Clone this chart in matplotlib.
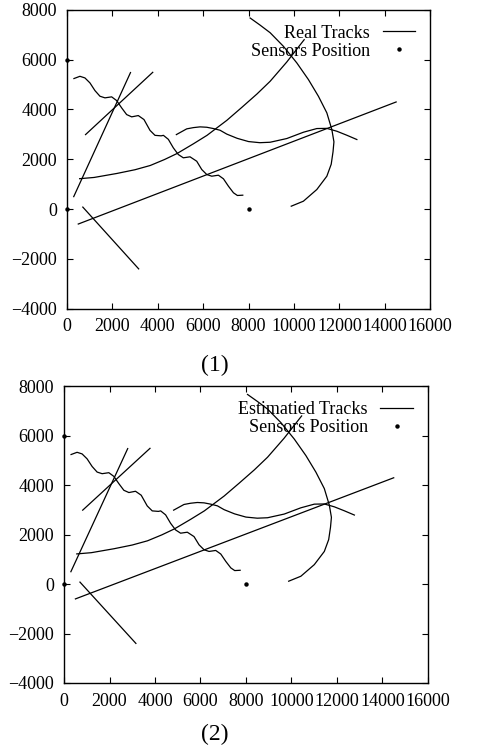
import numpy as np
import matplotlib
matplotlib.use('Agg')
import matplotlib.pyplot as plt

plt.rcParams['font.family'] = ['Liberation Serif', 'DejaVu Serif']

# tracks (x, y in metres)
line_a_x = [500, 14500]
line_a_y = [-600, 4300]

line_b_x = [300, 2800]
line_b_y = [500, 5480]

line_c_x = [820, 3780]
line_c_y = [2990, 5490]

line_d_x = [700, 3160]
line_d_y = [80, -2400]

curve_e_x = [560, 1200, 2200, 3000, 3670, 4300, 4850, 5570, 6170, 7040, 7700, 8370, 8950, 9680, 10450]
curve_e_y = [1220, 1270, 1430, 1580, 1750, 1990, 2230, 2620, 2960, 3560, 4080, 4620, 5130, 5900, 6800]

arc_f_x = [8070, 8500, 8950, 9535, 10125, 10637, 11077, 11448, 11668, 11760, 11720, 11640, 11448, 11007, 10416, 9880]
arc_f_y = [7670, 7390, 7080, 6534, 5868, 5198, 4528, 3862, 3193, 2700, 2300, 1800, 1320, 786, 317, 116]

wave_g_x = [309, 573, 793, 1014, 1234, 1455, 1675, 1970, 2190, 2410, 2630, 2852, 3143, 3394,
            3659, 3879, 4150, 4250, 4467, 4686, 4906, 5127, 5422, 5717, 5938, 6158, 6378,
            6672, 6894, 7114, 7335, 7507, 7745]
wave_g_y = [5240, 5330, 5265, 5065, 4757, 4530, 4465, 4505, 4356, 4063, 3794, 3702, 3754, 3594,
            3160, 2960, 2940, 2960, 2800, 2459, 2190, 2058, 2098, 1921, 1588, 1388, 1320,
            1360, 1215, 918, 654, 546, 558]

wave_h_x = [4820, 5276, 5568, 5863, 6158, 6449, 6744, 7040, 7500, 8000, 8500, 8950, 9684,
            10416, 11007, 11448, 11888, 12329, 12770]
wave_h_y = [2990, 3220, 3270, 3300, 3285, 3233, 3165, 3010, 2840, 2710, 2665, 2683, 2832,
            3085, 3233, 3240, 3125, 2964, 2792]

sensor_x = [0, 0, 8000]
sensor_y = [6000, 0, 0]

track_x = [line_a_x, line_b_x, line_c_x, line_d_x, curve_e_x, arc_f_x, wave_g_x, wave_h_x]
track_y = [line_a_y, line_b_y, line_c_y, line_d_y, curve_e_y, arc_f_y, wave_g_y, wave_h_y]

panels = [
    ([0.140, 0.590, 0.760, 0.397], 'Real Tracks', '(1)', 0.515),
    ([0.134, 0.093, 0.761, 0.394], 'Estimatied Tracks', '(2)', 0.024),
]

fig = plt.figure(figsize=(4.78, 7.53), dpi=100)

for rect, track_label, caption, cap_y in panels:
    ax = fig.add_axes(rect)
    for i, (xs, ys) in enumerate(zip(track_x, track_y)):
        ax.plot(xs, ys, color='black', lw=0.9, solid_joinstyle='round',
                label=track_label if i == 0 else None)
    ax.plot(sensor_x, sensor_y, 'o', color='black', ms=3.2, mew=0,
            label='Sensors Position', clip_on=False)

    ax.set_xlim(0, 16000)
    ax.set_ylim(-4000, 8000)
    ax.set_xticks(np.arange(0, 16001, 2000))
    ax.set_yticks(np.arange(-4000, 8001, 2000))
    ax.tick_params(direction='in', top=True, right=True, length=4,
                   width=0.8, labelsize=13, pad=7)
    for s in ax.spines.values():
        s.set_linewidth(1.0)

    ax.legend(loc='upper right', bbox_to_anchor=(0.959, 0.95), frameon=False,
              markerfirst=False, fontsize=13, handlelength=1.8,
              handletextpad=0.7, labelspacing=0.05, borderpad=0,
              borderaxespad=0)

    fig.text(0.45, cap_y, caption, ha='center', va='center', fontsize=17)

fig.savefig('out.png', dpi=100)
